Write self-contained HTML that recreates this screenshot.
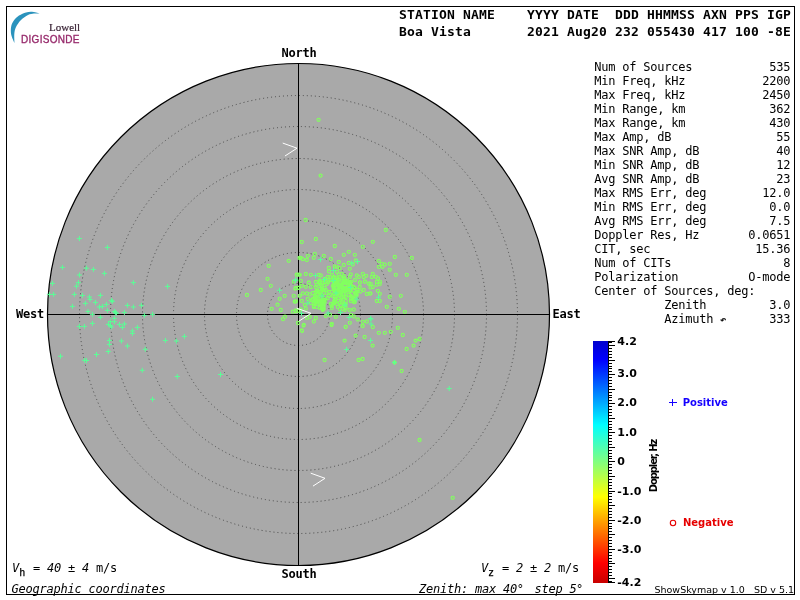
<!DOCTYPE html>
<html lang="en"><head><meta charset="utf-8"><title>Skymap - Boa Vista</title>
<style>
html,body{margin:0;padding:0;background:#fff;}
body{width:800px;height:600px;overflow:hidden;position:relative;}
svg{position:absolute;left:0;top:0;display:block;will-change:transform;}
text{white-space:pre;}
.m{font-family:"DejaVu Sans Mono","Liberation Mono",monospace;font-size:12px;letter-spacing:-0.2246px;fill:#000;}
.mi{font-family:"DejaVu Sans Mono","Liberation Mono",monospace;font-size:12px;letter-spacing:-0.2246px;font-style:italic;fill:#000;}
.ms{font-family:"DejaVu Sans Mono","Liberation Mono",monospace;font-size:10px;fill:#000;stroke:#000;stroke-width:0.25px;}
.mb{font-family:"DejaVu Sans Mono","Liberation Mono",monospace;font-size:12px;font-weight:bold;letter-spacing:-0.2246px;fill:#000;}
.h{font-family:"DejaVu Sans Mono","Liberation Mono",monospace;font-size:13px;font-weight:bold;letter-spacing:0.1734px;fill:#000;}
.t{font-family:"DejaVu Sans","Liberation Sans",sans-serif;font-size:11px;font-weight:bold;fill:#000;}
.l{font-family:"DejaVu Sans","Liberation Sans",sans-serif;font-size:10px;font-weight:bold;}
.f{font-family:"DejaVu Sans","Liberation Sans",sans-serif;font-size:9.5px;fill:#000;}
.lg1{font-family:"Liberation Serif","DejaVu Serif",serif;font-size:11px;fill:#3a2436;stroke:#3a2436;stroke-width:0.2px;}
.lg2{font-family:"Liberation Sans","DejaVu Sans",sans-serif;font-size:10px;letter-spacing:0.3px;fill:#96286a;stroke:#96286a;stroke-width:0.3px;}
.ar{font-family:"DejaVu Sans Mono","Liberation Mono",monospace;font-size:10px;fill:#000;stroke:#000;stroke-width:0.3px;}
</style></head><body>
<svg width="800" height="600" viewBox="0 0 800 600">
<defs><linearGradient id="jet" x1="0" y1="0" x2="0" y2="1">
<stop offset="0.0000" stop-color="#0000cd"/>
<stop offset="0.0785" stop-color="#0000ff"/>
<stop offset="0.2128" stop-color="#0080ff"/>
<stop offset="0.3471" stop-color="#00ffff"/>
<stop offset="0.4979" stop-color="#80ff80"/>
<stop offset="0.6446" stop-color="#ffff00"/>
<stop offset="0.7397" stop-color="#ffa500"/>
<stop offset="0.9174" stop-color="#ff0000"/>
<stop offset="1.0000" stop-color="#c80000"/>
</linearGradient></defs>
<rect x="6.5" y="6.5" width="788" height="588" fill="#fff" stroke="#000" stroke-width="1"/>
<circle cx="298.5" cy="314.5" r="251.0" fill="#a9a9a9" stroke="#000" stroke-width="1.2"/>
<g fill="none" stroke="#484848" stroke-width="1" stroke-dasharray="1 3">
<circle cx="298.5" cy="314.5" r="31"/>
<circle cx="298.5" cy="314.5" r="62"/>
<circle cx="298.5" cy="314.5" r="94"/>
<circle cx="298.5" cy="314.5" r="125"/>
<circle cx="298.5" cy="314.5" r="156"/>
<circle cx="298.5" cy="314.5" r="188"/>
<circle cx="298.5" cy="314.5" r="219"/>
</g>
<path d="M298.5 63.5V565.5M47.5 314.5H549.5" stroke="#000" stroke-width="1" fill="none" shape-rendering="crispEdges"/>
<path d="M287.15 260.8a1.55 1.55 0 1 0 3.1 0a1.55 1.55 0 1 0 -3.1 0M267.15 265.8a1.55 1.55 0 1 0 3.1 0a1.55 1.55 0 1 0 -3.1 0M265.95 278.8a1.55 1.55 0 1 0 3.1 0a1.55 1.55 0 1 0 -3.1 0M269.25 285.8a1.55 1.55 0 1 0 3.1 0a1.55 1.55 0 1 0 -3.1 0M259.25 290a1.55 1.55 0 1 0 3.1 0a1.55 1.55 0 1 0 -3.1 0M245.45 295a1.55 1.55 0 1 0 3.1 0a1.55 1.55 0 1 0 -3.1 0M283.15 295.8a1.55 1.55 0 1 0 3.1 0a1.55 1.55 0 1 0 -3.1 0M278.15 298.8a1.55 1.55 0 1 0 3.1 0a1.55 1.55 0 1 0 -3.1 0M275.95 304.7a1.55 1.55 0 1 0 3.1 0a1.55 1.55 0 1 0 -3.1 0M270.15 308.8a1.55 1.55 0 1 0 3.1 0a1.55 1.55 0 1 0 -3.1 0M279.25 310a1.55 1.55 0 1 0 3.1 0a1.55 1.55 0 1 0 -3.1 0M292.15 295.8a1.55 1.55 0 1 0 3.1 0a1.55 1.55 0 1 0 -3.1 0M293.15 301.7a1.55 1.55 0 1 0 3.1 0a1.55 1.55 0 1 0 -3.1 0M293.75 288.7a1.55 1.55 0 1 0 3.1 0a1.55 1.55 0 1 0 -3.1 0M296.75 287.8a1.55 1.55 0 1 0 3.1 0a1.55 1.55 0 1 0 -3.1 0M292.25 281.7a1.55 1.55 0 1 0 3.1 0a1.55 1.55 0 1 0 -3.1 0M295.15 274.7a1.55 1.55 0 1 0 3.1 0a1.55 1.55 0 1 0 -3.1 0M297.15 274.7a1.55 1.55 0 1 0 3.1 0a1.55 1.55 0 1 0 -3.1 0M291.25 311.7a1.55 1.55 0 1 0 3.1 0a1.55 1.55 0 1 0 -3.1 0M294.25 311.3a1.55 1.55 0 1 0 3.1 0a1.55 1.55 0 1 0 -3.1 0M296.75 310.8a1.55 1.55 0 1 0 3.1 0a1.55 1.55 0 1 0 -3.1 0M283.45 316.7a1.55 1.55 0 1 0 3.1 0a1.55 1.55 0 1 0 -3.1 0M281.45 319.2a1.55 1.55 0 1 0 3.1 0a1.55 1.55 0 1 0 -3.1 0M297.95 258a1.55 1.55 0 1 0 3.1 0a1.55 1.55 0 1 0 -3.1 0M297.95 295.8a1.55 1.55 0 1 0 3.1 0a1.55 1.55 0 1 0 -3.1 0M300.25 242a1.55 1.55 0 1 0 3.1 0a1.55 1.55 0 1 0 -3.1 0M314.25 239a1.55 1.55 0 1 0 3.1 0a1.55 1.55 0 1 0 -3.1 0M333.25 246a1.55 1.55 0 1 0 3.1 0a1.55 1.55 0 1 0 -3.1 0M371.25 241.8a1.55 1.55 0 1 0 3.1 0a1.55 1.55 0 1 0 -3.1 0M361.25 246.8a1.55 1.55 0 1 0 3.1 0a1.55 1.55 0 1 0 -3.1 0M347.25 251.8a1.55 1.55 0 1 0 3.1 0a1.55 1.55 0 1 0 -3.1 0M342.25 254.8a1.55 1.55 0 1 0 3.1 0a1.55 1.55 0 1 0 -3.1 0M353.25 254.8a1.55 1.55 0 1 0 3.1 0a1.55 1.55 0 1 0 -3.1 0M313.25 253.8a1.55 1.55 0 1 0 3.1 0a1.55 1.55 0 1 0 -3.1 0M306.25 255.8a1.55 1.55 0 1 0 3.1 0a1.55 1.55 0 1 0 -3.1 0M322.25 256a1.55 1.55 0 1 0 3.1 0a1.55 1.55 0 1 0 -3.1 0M312.25 257.8a1.55 1.55 0 1 0 3.1 0a1.55 1.55 0 1 0 -3.1 0M299.25 257.8a1.55 1.55 0 1 0 3.1 0a1.55 1.55 0 1 0 -3.1 0M301.25 259.2a1.55 1.55 0 1 0 3.1 0a1.55 1.55 0 1 0 -3.1 0M305.25 260a1.55 1.55 0 1 0 3.1 0a1.55 1.55 0 1 0 -3.1 0M329.25 259a1.55 1.55 0 1 0 3.1 0a1.55 1.55 0 1 0 -3.1 0M337.25 262a1.55 1.55 0 1 0 3.1 0a1.55 1.55 0 1 0 -3.1 0M342.25 265a1.55 1.55 0 1 0 3.1 0a1.55 1.55 0 1 0 -3.1 0M347.25 263a1.55 1.55 0 1 0 3.1 0a1.55 1.55 0 1 0 -3.1 0M351.25 264.5a1.55 1.55 0 1 0 3.1 0a1.55 1.55 0 1 0 -3.1 0M354.25 260.5a1.55 1.55 0 1 0 3.1 0a1.55 1.55 0 1 0 -3.1 0M348.25 268.8a1.55 1.55 0 1 0 3.1 0a1.55 1.55 0 1 0 -3.1 0M327.25 268a1.55 1.55 0 1 0 3.1 0a1.55 1.55 0 1 0 -3.1 0M333.25 266.5a1.55 1.55 0 1 0 3.1 0a1.55 1.55 0 1 0 -3.1 0M335.25 266.8a1.55 1.55 0 1 0 3.1 0a1.55 1.55 0 1 0 -3.1 0M338.25 268.2a1.55 1.55 0 1 0 3.1 0a1.55 1.55 0 1 0 -3.1 0M327.45 271.5a1.55 1.55 0 1 0 3.1 0a1.55 1.55 0 1 0 -3.1 0M335.45 271.8a1.55 1.55 0 1 0 3.1 0a1.55 1.55 0 1 0 -3.1 0M330.45 275a1.55 1.55 0 1 0 3.1 0a1.55 1.55 0 1 0 -3.1 0M304.25 274a1.55 1.55 0 1 0 3.1 0a1.55 1.55 0 1 0 -3.1 0M309.25 274.8a1.55 1.55 0 1 0 3.1 0a1.55 1.55 0 1 0 -3.1 0M295.25 274.8a1.55 1.55 0 1 0 3.1 0a1.55 1.55 0 1 0 -3.1 0M298.25 274.8a1.55 1.55 0 1 0 3.1 0a1.55 1.55 0 1 0 -3.1 0M317.25 275a1.55 1.55 0 1 0 3.1 0a1.55 1.55 0 1 0 -3.1 0M319.25 275.5a1.55 1.55 0 1 0 3.1 0a1.55 1.55 0 1 0 -3.1 0M326.25 277a1.55 1.55 0 1 0 3.1 0a1.55 1.55 0 1 0 -3.1 0M328.45 277a1.55 1.55 0 1 0 3.1 0a1.55 1.55 0 1 0 -3.1 0M337.25 274.5a1.55 1.55 0 1 0 3.1 0a1.55 1.55 0 1 0 -3.1 0M340.25 274a1.55 1.55 0 1 0 3.1 0a1.55 1.55 0 1 0 -3.1 0M342.25 276a1.55 1.55 0 1 0 3.1 0a1.55 1.55 0 1 0 -3.1 0M349.25 274.5a1.55 1.55 0 1 0 3.1 0a1.55 1.55 0 1 0 -3.1 0M348.25 277a1.55 1.55 0 1 0 3.1 0a1.55 1.55 0 1 0 -3.1 0M355.25 275.5a1.55 1.55 0 1 0 3.1 0a1.55 1.55 0 1 0 -3.1 0M357.25 277a1.55 1.55 0 1 0 3.1 0a1.55 1.55 0 1 0 -3.1 0M361.25 273.8a1.55 1.55 0 1 0 3.1 0a1.55 1.55 0 1 0 -3.1 0M362.25 277a1.55 1.55 0 1 0 3.1 0a1.55 1.55 0 1 0 -3.1 0M364.65 275.8a1.55 1.55 0 1 0 3.1 0a1.55 1.55 0 1 0 -3.1 0M371.25 274a1.55 1.55 0 1 0 3.1 0a1.55 1.55 0 1 0 -3.1 0M370.25 277a1.55 1.55 0 1 0 3.1 0a1.55 1.55 0 1 0 -3.1 0M299.25 281a1.55 1.55 0 1 0 3.1 0a1.55 1.55 0 1 0 -3.1 0M307.25 282.8a1.55 1.55 0 1 0 3.1 0a1.55 1.55 0 1 0 -3.1 0M314.25 282a1.55 1.55 0 1 0 3.1 0a1.55 1.55 0 1 0 -3.1 0M318.25 280.5a1.55 1.55 0 1 0 3.1 0a1.55 1.55 0 1 0 -3.1 0M320.45 283a1.55 1.55 0 1 0 3.1 0a1.55 1.55 0 1 0 -3.1 0M326.45 282.5a1.55 1.55 0 1 0 3.1 0a1.55 1.55 0 1 0 -3.1 0M335.45 280a1.55 1.55 0 1 0 3.1 0a1.55 1.55 0 1 0 -3.1 0M337.45 279.5a1.55 1.55 0 1 0 3.1 0a1.55 1.55 0 1 0 -3.1 0M340.45 281a1.55 1.55 0 1 0 3.1 0a1.55 1.55 0 1 0 -3.1 0M343.45 283a1.55 1.55 0 1 0 3.1 0a1.55 1.55 0 1 0 -3.1 0M349.45 282a1.55 1.55 0 1 0 3.1 0a1.55 1.55 0 1 0 -3.1 0M353.45 280a1.55 1.55 0 1 0 3.1 0a1.55 1.55 0 1 0 -3.1 0M358.45 282.5a1.55 1.55 0 1 0 3.1 0a1.55 1.55 0 1 0 -3.1 0M363.45 281.5a1.55 1.55 0 1 0 3.1 0a1.55 1.55 0 1 0 -3.1 0M367.45 283.5a1.55 1.55 0 1 0 3.1 0a1.55 1.55 0 1 0 -3.1 0M384.25 230a1.55 1.55 0 1 0 3.1 0a1.55 1.55 0 1 0 -3.1 0M393.25 257a1.55 1.55 0 1 0 3.1 0a1.55 1.55 0 1 0 -3.1 0M410.25 258a1.55 1.55 0 1 0 3.1 0a1.55 1.55 0 1 0 -3.1 0M377.25 260.8a1.55 1.55 0 1 0 3.1 0a1.55 1.55 0 1 0 -3.1 0M380.25 263.8a1.55 1.55 0 1 0 3.1 0a1.55 1.55 0 1 0 -3.1 0M383.25 264.5a1.55 1.55 0 1 0 3.1 0a1.55 1.55 0 1 0 -3.1 0M388.25 263.8a1.55 1.55 0 1 0 3.1 0a1.55 1.55 0 1 0 -3.1 0M377.25 266.8a1.55 1.55 0 1 0 3.1 0a1.55 1.55 0 1 0 -3.1 0M380.95 266.8a1.55 1.55 0 1 0 3.1 0a1.55 1.55 0 1 0 -3.1 0M388.25 269.8a1.55 1.55 0 1 0 3.1 0a1.55 1.55 0 1 0 -3.1 0M374.25 276.8a1.55 1.55 0 1 0 3.1 0a1.55 1.55 0 1 0 -3.1 0M376.45 278.5a1.55 1.55 0 1 0 3.1 0a1.55 1.55 0 1 0 -3.1 0M394.25 274.8a1.55 1.55 0 1 0 3.1 0a1.55 1.55 0 1 0 -3.1 0M405.25 274.8a1.55 1.55 0 1 0 3.1 0a1.55 1.55 0 1 0 -3.1 0M375.25 281.8a1.55 1.55 0 1 0 3.1 0a1.55 1.55 0 1 0 -3.1 0M378.45 281.8a1.55 1.55 0 1 0 3.1 0a1.55 1.55 0 1 0 -3.1 0M375.25 284.8a1.55 1.55 0 1 0 3.1 0a1.55 1.55 0 1 0 -3.1 0M378.25 284a1.55 1.55 0 1 0 3.1 0a1.55 1.55 0 1 0 -3.1 0M369.25 283.8a1.55 1.55 0 1 0 3.1 0a1.55 1.55 0 1 0 -3.1 0M371.25 287a1.55 1.55 0 1 0 3.1 0a1.55 1.55 0 1 0 -3.1 0M368.95 287.5a1.55 1.55 0 1 0 3.1 0a1.55 1.55 0 1 0 -3.1 0M376.25 290.8a1.55 1.55 0 1 0 3.1 0a1.55 1.55 0 1 0 -3.1 0M378.25 293.8a1.55 1.55 0 1 0 3.1 0a1.55 1.55 0 1 0 -3.1 0M368.95 293.5a1.55 1.55 0 1 0 3.1 0a1.55 1.55 0 1 0 -3.1 0M375.25 301a1.55 1.55 0 1 0 3.1 0a1.55 1.55 0 1 0 -3.1 0M378.25 301a1.55 1.55 0 1 0 3.1 0a1.55 1.55 0 1 0 -3.1 0M388.25 296.8a1.55 1.55 0 1 0 3.1 0a1.55 1.55 0 1 0 -3.1 0M399.25 295.8a1.55 1.55 0 1 0 3.1 0a1.55 1.55 0 1 0 -3.1 0M385.25 306.8a1.55 1.55 0 1 0 3.1 0a1.55 1.55 0 1 0 -3.1 0M397.25 308.8a1.55 1.55 0 1 0 3.1 0a1.55 1.55 0 1 0 -3.1 0M403.25 311.8a1.55 1.55 0 1 0 3.1 0a1.55 1.55 0 1 0 -3.1 0M371.25 327a1.55 1.55 0 1 0 3.1 0a1.55 1.55 0 1 0 -3.1 0M396.25 327.8a1.55 1.55 0 1 0 3.1 0a1.55 1.55 0 1 0 -3.1 0M377.25 332.8a1.55 1.55 0 1 0 3.1 0a1.55 1.55 0 1 0 -3.1 0M383.25 332.8a1.55 1.55 0 1 0 3.1 0a1.55 1.55 0 1 0 -3.1 0M389.25 331.8a1.55 1.55 0 1 0 3.1 0a1.55 1.55 0 1 0 -3.1 0M401.25 335a1.55 1.55 0 1 0 3.1 0a1.55 1.55 0 1 0 -3.1 0M300.45 331a1.55 1.55 0 1 0 3.1 0a1.55 1.55 0 1 0 -3.1 0M302.05 325.6a1.55 1.55 0 1 0 3.1 0a1.55 1.55 0 1 0 -3.1 0M330.05 325a1.55 1.55 0 1 0 3.1 0a1.55 1.55 0 1 0 -3.1 0M344.05 327a1.55 1.55 0 1 0 3.1 0a1.55 1.55 0 1 0 -3.1 0M361.05 326a1.55 1.55 0 1 0 3.1 0a1.55 1.55 0 1 0 -3.1 0M354.05 335.6a1.55 1.55 0 1 0 3.1 0a1.55 1.55 0 1 0 -3.1 0M363.05 337a1.55 1.55 0 1 0 3.1 0a1.55 1.55 0 1 0 -3.1 0M343.05 340.6a1.55 1.55 0 1 0 3.1 0a1.55 1.55 0 1 0 -3.1 0M371.05 345.6a1.55 1.55 0 1 0 3.1 0a1.55 1.55 0 1 0 -3.1 0M323.05 360a1.55 1.55 0 1 0 3.1 0a1.55 1.55 0 1 0 -3.1 0M357.05 360a1.55 1.55 0 1 0 3.1 0a1.55 1.55 0 1 0 -3.1 0M361.05 359a1.55 1.55 0 1 0 3.1 0a1.55 1.55 0 1 0 -3.1 0M418.05 339a1.55 1.55 0 1 0 3.1 0a1.55 1.55 0 1 0 -3.1 0M414.05 340.6a1.55 1.55 0 1 0 3.1 0a1.55 1.55 0 1 0 -3.1 0M412.05 345.6a1.55 1.55 0 1 0 3.1 0a1.55 1.55 0 1 0 -3.1 0M405.05 349a1.55 1.55 0 1 0 3.1 0a1.55 1.55 0 1 0 -3.1 0M393.05 362.6a1.55 1.55 0 1 0 3.1 0a1.55 1.55 0 1 0 -3.1 0M400.05 371a1.55 1.55 0 1 0 3.1 0a1.55 1.55 0 1 0 -3.1 0M418.05 440a1.55 1.55 0 1 0 3.1 0a1.55 1.55 0 1 0 -3.1 0M451.15 497.8a1.55 1.55 0 1 0 3.1 0a1.55 1.55 0 1 0 -3.1 0M317.05 119.8a1.55 1.55 0 1 0 3.1 0a1.55 1.55 0 1 0 -3.1 0M319.05 175.6a1.55 1.55 0 1 0 3.1 0a1.55 1.55 0 1 0 -3.1 0M304.05 220a1.55 1.55 0 1 0 3.1 0a1.55 1.55 0 1 0 -3.1 0M296.45 323a1.55 1.55 0 1 0 3.1 0a1.55 1.55 0 1 0 -3.1 0M302.25 324.8a1.55 1.55 0 1 0 3.1 0a1.55 1.55 0 1 0 -3.1 0M300.25 330.5a1.55 1.55 0 1 0 3.1 0a1.55 1.55 0 1 0 -3.1 0M312.25 321.5a1.55 1.55 0 1 0 3.1 0a1.55 1.55 0 1 0 -3.1 0M314.25 318a1.55 1.55 0 1 0 3.1 0a1.55 1.55 0 1 0 -3.1 0M308.25 317a1.55 1.55 0 1 0 3.1 0a1.55 1.55 0 1 0 -3.1 0M305.45 318a1.55 1.55 0 1 0 3.1 0a1.55 1.55 0 1 0 -3.1 0M330.25 323.8a1.55 1.55 0 1 0 3.1 0a1.55 1.55 0 1 0 -3.1 0M324.25 316a1.55 1.55 0 1 0 3.1 0a1.55 1.55 0 1 0 -3.1 0M328.45 315a1.55 1.55 0 1 0 3.1 0a1.55 1.55 0 1 0 -3.1 0M334.25 316.8a1.55 1.55 0 1 0 3.1 0a1.55 1.55 0 1 0 -3.1 0M344.25 326.8a1.55 1.55 0 1 0 3.1 0a1.55 1.55 0 1 0 -3.1 0M348.25 322.8a1.55 1.55 0 1 0 3.1 0a1.55 1.55 0 1 0 -3.1 0M352.45 316.5a1.55 1.55 0 1 0 3.1 0a1.55 1.55 0 1 0 -3.1 0M349.45 315a1.55 1.55 0 1 0 3.1 0a1.55 1.55 0 1 0 -3.1 0M356.25 319.5a1.55 1.55 0 1 0 3.1 0a1.55 1.55 0 1 0 -3.1 0M361.25 321.8a1.55 1.55 0 1 0 3.1 0a1.55 1.55 0 1 0 -3.1 0M365.25 321.5a1.55 1.55 0 1 0 3.1 0a1.55 1.55 0 1 0 -3.1 0M361.25 326a1.55 1.55 0 1 0 3.1 0a1.55 1.55 0 1 0 -3.1 0M348.25 310a1.55 1.55 0 1 0 3.1 0a1.55 1.55 0 1 0 -3.1 0M352.25 309.5a1.55 1.55 0 1 0 3.1 0a1.55 1.55 0 1 0 -3.1 0M358.25 282.5a1.55 1.55 0 1 0 3.1 0a1.55 1.55 0 1 0 -3.1 0M363.25 281.8a1.55 1.55 0 1 0 3.1 0a1.55 1.55 0 1 0 -3.1 0M367.25 283.8a1.55 1.55 0 1 0 3.1 0a1.55 1.55 0 1 0 -3.1 0M358.25 287a1.55 1.55 0 1 0 3.1 0a1.55 1.55 0 1 0 -3.1 0M362.25 290a1.55 1.55 0 1 0 3.1 0a1.55 1.55 0 1 0 -3.1 0M365.25 294a1.55 1.55 0 1 0 3.1 0a1.55 1.55 0 1 0 -3.1 0M368.25 293.5a1.55 1.55 0 1 0 3.1 0a1.55 1.55 0 1 0 -3.1 0M354.25 293a1.55 1.55 0 1 0 3.1 0a1.55 1.55 0 1 0 -3.1 0M358.95 291.5a1.55 1.55 0 1 0 3.1 0a1.55 1.55 0 1 0 -3.1 0M352.25 302a1.55 1.55 0 1 0 3.1 0a1.55 1.55 0 1 0 -3.1 0M349.25 301a1.55 1.55 0 1 0 3.1 0a1.55 1.55 0 1 0 -3.1 0M294.25 288a1.55 1.55 0 1 0 3.1 0a1.55 1.55 0 1 0 -3.1 0M297.25 287.8a1.55 1.55 0 1 0 3.1 0a1.55 1.55 0 1 0 -3.1 0M300.25 285.8a1.55 1.55 0 1 0 3.1 0a1.55 1.55 0 1 0 -3.1 0M304.25 286.8a1.55 1.55 0 1 0 3.1 0a1.55 1.55 0 1 0 -3.1 0M307.25 282.5a1.55 1.55 0 1 0 3.1 0a1.55 1.55 0 1 0 -3.1 0M309.25 287a1.55 1.55 0 1 0 3.1 0a1.55 1.55 0 1 0 -3.1 0M301.25 293.5a1.55 1.55 0 1 0 3.1 0a1.55 1.55 0 1 0 -3.1 0M298.25 295.8a1.55 1.55 0 1 0 3.1 0a1.55 1.55 0 1 0 -3.1 0M305.25 293.5a1.55 1.55 0 1 0 3.1 0a1.55 1.55 0 1 0 -3.1 0M308.25 294.5a1.55 1.55 0 1 0 3.1 0a1.55 1.55 0 1 0 -3.1 0M306.25 299a1.55 1.55 0 1 0 3.1 0a1.55 1.55 0 1 0 -3.1 0M300.25 301a1.55 1.55 0 1 0 3.1 0a1.55 1.55 0 1 0 -3.1 0M303.25 305a1.55 1.55 0 1 0 3.1 0a1.55 1.55 0 1 0 -3.1 0M299.25 309.5a1.55 1.55 0 1 0 3.1 0a1.55 1.55 0 1 0 -3.1 0M304.25 308.5a1.55 1.55 0 1 0 3.1 0a1.55 1.55 0 1 0 -3.1 0M294.25 301.5a1.55 1.55 0 1 0 3.1 0a1.55 1.55 0 1 0 -3.1 0M294.25 310.5a1.55 1.55 0 1 0 3.1 0a1.55 1.55 0 1 0 -3.1 0M331.25 296a1.55 1.55 0 1 0 3.1 0a1.55 1.55 0 1 0 -3.1 0M353.25 293a1.55 1.55 0 1 0 3.1 0a1.55 1.55 0 1 0 -3.1 0M333.25 297a1.55 1.55 0 1 0 3.1 0a1.55 1.55 0 1 0 -3.1 0M318.25 294a1.55 1.55 0 1 0 3.1 0a1.55 1.55 0 1 0 -3.1 0M339.25 305a1.55 1.55 0 1 0 3.1 0a1.55 1.55 0 1 0 -3.1 0M314.25 287a1.55 1.55 0 1 0 3.1 0a1.55 1.55 0 1 0 -3.1 0M342.25 278a1.55 1.55 0 1 0 3.1 0a1.55 1.55 0 1 0 -3.1 0M340.25 298a1.55 1.55 0 1 0 3.1 0a1.55 1.55 0 1 0 -3.1 0M334.25 278a1.55 1.55 0 1 0 3.1 0a1.55 1.55 0 1 0 -3.1 0M319.25 285a1.55 1.55 0 1 0 3.1 0a1.55 1.55 0 1 0 -3.1 0M311.25 293a1.55 1.55 0 1 0 3.1 0a1.55 1.55 0 1 0 -3.1 0M330.25 306a1.55 1.55 0 1 0 3.1 0a1.55 1.55 0 1 0 -3.1 0M334.25 299a1.55 1.55 0 1 0 3.1 0a1.55 1.55 0 1 0 -3.1 0M333.25 300a1.55 1.55 0 1 0 3.1 0a1.55 1.55 0 1 0 -3.1 0M331.25 286a1.55 1.55 0 1 0 3.1 0a1.55 1.55 0 1 0 -3.1 0M349.25 301a1.55 1.55 0 1 0 3.1 0a1.55 1.55 0 1 0 -3.1 0M325.25 284a1.55 1.55 0 1 0 3.1 0a1.55 1.55 0 1 0 -3.1 0M323.25 279a1.55 1.55 0 1 0 3.1 0a1.55 1.55 0 1 0 -3.1 0M345.25 290a1.55 1.55 0 1 0 3.1 0a1.55 1.55 0 1 0 -3.1 0M349.25 290a1.55 1.55 0 1 0 3.1 0a1.55 1.55 0 1 0 -3.1 0M355.25 290a1.55 1.55 0 1 0 3.1 0a1.55 1.55 0 1 0 -3.1 0M313.25 299a1.55 1.55 0 1 0 3.1 0a1.55 1.55 0 1 0 -3.1 0M346.25 286a1.55 1.55 0 1 0 3.1 0a1.55 1.55 0 1 0 -3.1 0M315.25 285a1.55 1.55 0 1 0 3.1 0a1.55 1.55 0 1 0 -3.1 0M347.25 282a1.55 1.55 0 1 0 3.1 0a1.55 1.55 0 1 0 -3.1 0M336.25 292a1.55 1.55 0 1 0 3.1 0a1.55 1.55 0 1 0 -3.1 0M319.25 302a1.55 1.55 0 1 0 3.1 0a1.55 1.55 0 1 0 -3.1 0M316.25 299a1.55 1.55 0 1 0 3.1 0a1.55 1.55 0 1 0 -3.1 0M315.25 291a1.55 1.55 0 1 0 3.1 0a1.55 1.55 0 1 0 -3.1 0M320.25 286a1.55 1.55 0 1 0 3.1 0a1.55 1.55 0 1 0 -3.1 0M320.25 290a1.55 1.55 0 1 0 3.1 0a1.55 1.55 0 1 0 -3.1 0M349.25 299a1.55 1.55 0 1 0 3.1 0a1.55 1.55 0 1 0 -3.1 0M346.25 288a1.55 1.55 0 1 0 3.1 0a1.55 1.55 0 1 0 -3.1 0M314.25 297a1.55 1.55 0 1 0 3.1 0a1.55 1.55 0 1 0 -3.1 0M321.25 298a1.55 1.55 0 1 0 3.1 0a1.55 1.55 0 1 0 -3.1 0M327.25 292a1.55 1.55 0 1 0 3.1 0a1.55 1.55 0 1 0 -3.1 0M336.25 307a1.55 1.55 0 1 0 3.1 0a1.55 1.55 0 1 0 -3.1 0M318.25 282a1.55 1.55 0 1 0 3.1 0a1.55 1.55 0 1 0 -3.1 0M321.25 283a1.55 1.55 0 1 0 3.1 0a1.55 1.55 0 1 0 -3.1 0M351.25 298a1.55 1.55 0 1 0 3.1 0a1.55 1.55 0 1 0 -3.1 0M329.25 280a1.55 1.55 0 1 0 3.1 0a1.55 1.55 0 1 0 -3.1 0M321.25 301a1.55 1.55 0 1 0 3.1 0a1.55 1.55 0 1 0 -3.1 0M322.25 306a1.55 1.55 0 1 0 3.1 0a1.55 1.55 0 1 0 -3.1 0M337.25 287a1.55 1.55 0 1 0 3.1 0a1.55 1.55 0 1 0 -3.1 0M338.25 286a1.55 1.55 0 1 0 3.1 0a1.55 1.55 0 1 0 -3.1 0M331.25 278a1.55 1.55 0 1 0 3.1 0a1.55 1.55 0 1 0 -3.1 0M318.25 289a1.55 1.55 0 1 0 3.1 0a1.55 1.55 0 1 0 -3.1 0M336.25 281a1.55 1.55 0 1 0 3.1 0a1.55 1.55 0 1 0 -3.1 0M342.25 297a1.55 1.55 0 1 0 3.1 0a1.55 1.55 0 1 0 -3.1 0M311.25 299a1.55 1.55 0 1 0 3.1 0a1.55 1.55 0 1 0 -3.1 0M332.25 302a1.55 1.55 0 1 0 3.1 0a1.55 1.55 0 1 0 -3.1 0M313.25 296a1.55 1.55 0 1 0 3.1 0a1.55 1.55 0 1 0 -3.1 0M344.25 308a1.55 1.55 0 1 0 3.1 0a1.55 1.55 0 1 0 -3.1 0M344.25 301a1.55 1.55 0 1 0 3.1 0a1.55 1.55 0 1 0 -3.1 0M329.25 304a1.55 1.55 0 1 0 3.1 0a1.55 1.55 0 1 0 -3.1 0M350.25 297a1.55 1.55 0 1 0 3.1 0a1.55 1.55 0 1 0 -3.1 0M339.25 290a1.55 1.55 0 1 0 3.1 0a1.55 1.55 0 1 0 -3.1 0M337.25 298a1.55 1.55 0 1 0 3.1 0a1.55 1.55 0 1 0 -3.1 0M343.25 290a1.55 1.55 0 1 0 3.1 0a1.55 1.55 0 1 0 -3.1 0M344.25 297a1.55 1.55 0 1 0 3.1 0a1.55 1.55 0 1 0 -3.1 0M314.25 303a1.55 1.55 0 1 0 3.1 0a1.55 1.55 0 1 0 -3.1 0M332.25 284a1.55 1.55 0 1 0 3.1 0a1.55 1.55 0 1 0 -3.1 0M342.25 294a1.55 1.55 0 1 0 3.1 0a1.55 1.55 0 1 0 -3.1 0M338.25 309a1.55 1.55 0 1 0 3.1 0a1.55 1.55 0 1 0 -3.1 0M352.25 300a1.55 1.55 0 1 0 3.1 0a1.55 1.55 0 1 0 -3.1 0M330.25 308a1.55 1.55 0 1 0 3.1 0a1.55 1.55 0 1 0 -3.1 0M319.25 292a1.55 1.55 0 1 0 3.1 0a1.55 1.55 0 1 0 -3.1 0M316.25 294a1.55 1.55 0 1 0 3.1 0a1.55 1.55 0 1 0 -3.1 0M343.25 310a1.55 1.55 0 1 0 3.1 0a1.55 1.55 0 1 0 -3.1 0M323.25 282a1.55 1.55 0 1 0 3.1 0a1.55 1.55 0 1 0 -3.1 0M339.25 294a1.55 1.55 0 1 0 3.1 0a1.55 1.55 0 1 0 -3.1 0M355.25 292a1.55 1.55 0 1 0 3.1 0a1.55 1.55 0 1 0 -3.1 0M348.25 285a1.55 1.55 0 1 0 3.1 0a1.55 1.55 0 1 0 -3.1 0M339.25 292a1.55 1.55 0 1 0 3.1 0a1.55 1.55 0 1 0 -3.1 0M339.25 300a1.55 1.55 0 1 0 3.1 0a1.55 1.55 0 1 0 -3.1 0M341.25 283a1.55 1.55 0 1 0 3.1 0a1.55 1.55 0 1 0 -3.1 0M332.25 282a1.55 1.55 0 1 0 3.1 0a1.55 1.55 0 1 0 -3.1 0M343.25 282a1.55 1.55 0 1 0 3.1 0a1.55 1.55 0 1 0 -3.1 0M323.25 288a1.55 1.55 0 1 0 3.1 0a1.55 1.55 0 1 0 -3.1 0M338.25 303a1.55 1.55 0 1 0 3.1 0a1.55 1.55 0 1 0 -3.1 0M353.25 302a1.55 1.55 0 1 0 3.1 0a1.55 1.55 0 1 0 -3.1 0M316.25 292a1.55 1.55 0 1 0 3.1 0a1.55 1.55 0 1 0 -3.1 0M327.25 296a1.55 1.55 0 1 0 3.1 0a1.55 1.55 0 1 0 -3.1 0M343.25 305a1.55 1.55 0 1 0 3.1 0a1.55 1.55 0 1 0 -3.1 0M340.25 302a1.55 1.55 0 1 0 3.1 0a1.55 1.55 0 1 0 -3.1 0M320.25 308a1.55 1.55 0 1 0 3.1 0a1.55 1.55 0 1 0 -3.1 0M335.25 304a1.55 1.55 0 1 0 3.1 0a1.55 1.55 0 1 0 -3.1 0M314.25 292a1.55 1.55 0 1 0 3.1 0a1.55 1.55 0 1 0 -3.1 0M332.25 277a1.55 1.55 0 1 0 3.1 0a1.55 1.55 0 1 0 -3.1 0M334.25 302a1.55 1.55 0 1 0 3.1 0a1.55 1.55 0 1 0 -3.1 0M354.25 294a1.55 1.55 0 1 0 3.1 0a1.55 1.55 0 1 0 -3.1 0M320.25 295a1.55 1.55 0 1 0 3.1 0a1.55 1.55 0 1 0 -3.1 0M323.25 302a1.55 1.55 0 1 0 3.1 0a1.55 1.55 0 1 0 -3.1 0M349.25 296a1.55 1.55 0 1 0 3.1 0a1.55 1.55 0 1 0 -3.1 0M324.25 290a1.55 1.55 0 1 0 3.1 0a1.55 1.55 0 1 0 -3.1 0M355.25 295a1.55 1.55 0 1 0 3.1 0a1.55 1.55 0 1 0 -3.1 0M336.25 283a1.55 1.55 0 1 0 3.1 0a1.55 1.55 0 1 0 -3.1 0M335.25 294a1.55 1.55 0 1 0 3.1 0a1.55 1.55 0 1 0 -3.1 0M338.25 277a1.55 1.55 0 1 0 3.1 0a1.55 1.55 0 1 0 -3.1 0M335.25 291a1.55 1.55 0 1 0 3.1 0a1.55 1.55 0 1 0 -3.1 0M322.25 293a1.55 1.55 0 1 0 3.1 0a1.55 1.55 0 1 0 -3.1 0M332.25 287a1.55 1.55 0 1 0 3.1 0a1.55 1.55 0 1 0 -3.1 0M319.25 298a1.55 1.55 0 1 0 3.1 0a1.55 1.55 0 1 0 -3.1 0M342.25 288a1.55 1.55 0 1 0 3.1 0a1.55 1.55 0 1 0 -3.1 0M326.25 298a1.55 1.55 0 1 0 3.1 0a1.55 1.55 0 1 0 -3.1 0M315.25 302a1.55 1.55 0 1 0 3.1 0a1.55 1.55 0 1 0 -3.1 0M334.25 292a1.55 1.55 0 1 0 3.1 0a1.55 1.55 0 1 0 -3.1 0M334.25 282a1.55 1.55 0 1 0 3.1 0a1.55 1.55 0 1 0 -3.1 0M349.25 284a1.55 1.55 0 1 0 3.1 0a1.55 1.55 0 1 0 -3.1 0M352.25 287a1.55 1.55 0 1 0 3.1 0a1.55 1.55 0 1 0 -3.1 0M348.25 291a1.55 1.55 0 1 0 3.1 0a1.55 1.55 0 1 0 -3.1 0M346.25 281a1.55 1.55 0 1 0 3.1 0a1.55 1.55 0 1 0 -3.1 0M341.25 309a1.55 1.55 0 1 0 3.1 0a1.55 1.55 0 1 0 -3.1 0M333.25 303a1.55 1.55 0 1 0 3.1 0a1.55 1.55 0 1 0 -3.1 0M331.25 304a1.55 1.55 0 1 0 3.1 0a1.55 1.55 0 1 0 -3.1 0M325.25 293a1.55 1.55 0 1 0 3.1 0a1.55 1.55 0 1 0 -3.1 0M342.25 306a1.55 1.55 0 1 0 3.1 0a1.55 1.55 0 1 0 -3.1 0M344.25 291a1.55 1.55 0 1 0 3.1 0a1.55 1.55 0 1 0 -3.1 0M322.25 309a1.55 1.55 0 1 0 3.1 0a1.55 1.55 0 1 0 -3.1 0M344.25 304a1.55 1.55 0 1 0 3.1 0a1.55 1.55 0 1 0 -3.1 0M342.25 304a1.55 1.55 0 1 0 3.1 0a1.55 1.55 0 1 0 -3.1 0M343.25 279a1.55 1.55 0 1 0 3.1 0a1.55 1.55 0 1 0 -3.1 0M322.25 290a1.55 1.55 0 1 0 3.1 0a1.55 1.55 0 1 0 -3.1 0M327.25 280a1.55 1.55 0 1 0 3.1 0a1.55 1.55 0 1 0 -3.1 0M354.25 296a1.55 1.55 0 1 0 3.1 0a1.55 1.55 0 1 0 -3.1 0M344.25 294a1.55 1.55 0 1 0 3.1 0a1.55 1.55 0 1 0 -3.1 0M332.25 288a1.55 1.55 0 1 0 3.1 0a1.55 1.55 0 1 0 -3.1 0M332.25 289a1.55 1.55 0 1 0 3.1 0a1.55 1.55 0 1 0 -3.1 0M344.25 281a1.55 1.55 0 1 0 3.1 0a1.55 1.55 0 1 0 -3.1 0M353.25 288a1.55 1.55 0 1 0 3.1 0a1.55 1.55 0 1 0 -3.1 0M342.25 291a1.55 1.55 0 1 0 3.1 0a1.55 1.55 0 1 0 -3.1 0M338.25 285a1.55 1.55 0 1 0 3.1 0a1.55 1.55 0 1 0 -3.1 0M335.25 293a1.55 1.55 0 1 0 3.1 0a1.55 1.55 0 1 0 -3.1 0M332.25 294a1.55 1.55 0 1 0 3.1 0a1.55 1.55 0 1 0 -3.1 0M338.25 296a1.55 1.55 0 1 0 3.1 0a1.55 1.55 0 1 0 -3.1 0M339.25 289a1.55 1.55 0 1 0 3.1 0a1.55 1.55 0 1 0 -3.1 0M347.25 288a1.55 1.55 0 1 0 3.1 0a1.55 1.55 0 1 0 -3.1 0M344.25 282a1.55 1.55 0 1 0 3.1 0a1.55 1.55 0 1 0 -3.1 0M344.25 288a1.55 1.55 0 1 0 3.1 0a1.55 1.55 0 1 0 -3.1 0M342.25 282a1.55 1.55 0 1 0 3.1 0a1.55 1.55 0 1 0 -3.1 0M340.25 292a1.55 1.55 0 1 0 3.1 0a1.55 1.55 0 1 0 -3.1 0M340.25 285a1.55 1.55 0 1 0 3.1 0a1.55 1.55 0 1 0 -3.1 0M343.25 288a1.55 1.55 0 1 0 3.1 0a1.55 1.55 0 1 0 -3.1 0M348.25 290a1.55 1.55 0 1 0 3.1 0a1.55 1.55 0 1 0 -3.1 0M347.25 284a1.55 1.55 0 1 0 3.1 0a1.55 1.55 0 1 0 -3.1 0M337.25 285a1.55 1.55 0 1 0 3.1 0a1.55 1.55 0 1 0 -3.1 0M346.25 290a1.55 1.55 0 1 0 3.1 0a1.55 1.55 0 1 0 -3.1 0M343.25 291a1.55 1.55 0 1 0 3.1 0a1.55 1.55 0 1 0 -3.1 0M348.25 283a1.55 1.55 0 1 0 3.1 0a1.55 1.55 0 1 0 -3.1 0M335.25 288a1.55 1.55 0 1 0 3.1 0a1.55 1.55 0 1 0 -3.1 0M342.25 281a1.55 1.55 0 1 0 3.1 0a1.55 1.55 0 1 0 -3.1 0M330.25 292a1.55 1.55 0 1 0 3.1 0a1.55 1.55 0 1 0 -3.1 0M338.25 289a1.55 1.55 0 1 0 3.1 0a1.55 1.55 0 1 0 -3.1 0M333.25 286a1.55 1.55 0 1 0 3.1 0a1.55 1.55 0 1 0 -3.1 0M347.25 295a1.55 1.55 0 1 0 3.1 0a1.55 1.55 0 1 0 -3.1 0M349.25 291a1.55 1.55 0 1 0 3.1 0a1.55 1.55 0 1 0 -3.1 0M348.25 284a1.55 1.55 0 1 0 3.1 0a1.55 1.55 0 1 0 -3.1 0M339.25 285a1.55 1.55 0 1 0 3.1 0a1.55 1.55 0 1 0 -3.1 0M349.25 287a1.55 1.55 0 1 0 3.1 0a1.55 1.55 0 1 0 -3.1 0M336.25 290a1.55 1.55 0 1 0 3.1 0a1.55 1.55 0 1 0 -3.1 0M321.25 310a1.55 1.55 0 1 0 3.1 0a1.55 1.55 0 1 0 -3.1 0M316.25 301a1.55 1.55 0 1 0 3.1 0a1.55 1.55 0 1 0 -3.1 0M318.25 303a1.55 1.55 0 1 0 3.1 0a1.55 1.55 0 1 0 -3.1 0M320.25 300a1.55 1.55 0 1 0 3.1 0a1.55 1.55 0 1 0 -3.1 0M312.25 306a1.55 1.55 0 1 0 3.1 0a1.55 1.55 0 1 0 -3.1 0M310.25 300a1.55 1.55 0 1 0 3.1 0a1.55 1.55 0 1 0 -3.1 0M321.25 306a1.55 1.55 0 1 0 3.1 0a1.55 1.55 0 1 0 -3.1 0M315.25 307a1.55 1.55 0 1 0 3.1 0a1.55 1.55 0 1 0 -3.1 0M315.25 297a1.55 1.55 0 1 0 3.1 0a1.55 1.55 0 1 0 -3.1 0M320.25 304a1.55 1.55 0 1 0 3.1 0a1.55 1.55 0 1 0 -3.1 0M322.25 300a1.55 1.55 0 1 0 3.1 0a1.55 1.55 0 1 0 -3.1 0M314.25 301a1.55 1.55 0 1 0 3.1 0a1.55 1.55 0 1 0 -3.1 0M313.25 301a1.55 1.55 0 1 0 3.1 0a1.55 1.55 0 1 0 -3.1 0M315.25 301a1.55 1.55 0 1 0 3.1 0a1.55 1.55 0 1 0 -3.1 0M312.25 304a1.55 1.55 0 1 0 3.1 0a1.55 1.55 0 1 0 -3.1 0M322.25 304a1.55 1.55 0 1 0 3.1 0a1.55 1.55 0 1 0 -3.1 0M312.25 307a1.55 1.55 0 1 0 3.1 0a1.55 1.55 0 1 0 -3.1 0M323.25 300a1.55 1.55 0 1 0 3.1 0a1.55 1.55 0 1 0 -3.1 0M309.25 303a1.55 1.55 0 1 0 3.1 0a1.55 1.55 0 1 0 -3.1 0M318.25 304a1.55 1.55 0 1 0 3.1 0a1.55 1.55 0 1 0 -3.1 0M318.25 308a1.55 1.55 0 1 0 3.1 0a1.55 1.55 0 1 0 -3.1 0M321.25 309a1.55 1.55 0 1 0 3.1 0a1.55 1.55 0 1 0 -3.1 0" stroke="#82ff5f" stroke-width="1.2" fill="none"/>
<path d="M76.9 238.6h5M79.4 236.1v5M104.9 247.4h5M107.4 244.9v5M59.9 267.4h5M62.4 264.9v5M83.9 268.2h5M86.4 265.7v5M90.9 269.4h5M93.4 266.9v5M101.9 273.4h5M104.4 270.9v5M76.9 275h5M79.4 272.5v5M49.9 283.4h5M52.4 280.9v5M75.9 282.6h5M78.4 280.1v5M73.9 286.2h5M76.4 283.7v5M130.9 282.6h5M133.4 280.1v5M165.1 286.4h5M167.6 283.9v5M46.9 294.4h5M49.4 291.9v5M51.1 294.4h5M53.6 291.9v5M71.9 294.4h5M74.4 291.9v5M79.9 295.4h5M82.4 292.9v5M86.9 297h5M89.4 294.5v5M87.5 299.4h5M90 296.9v5M97.9 295.4h5M100.4 292.9v5M108.9 300.4h5M111.4 297.9v5M109.9 301.4h5M112.4 298.9v5M82.9 303.4h5M85.4 300.9v5M92.9 302.4h5M95.4 299.9v5M69.9 306.4h5M72.4 303.9v5M96.9 307h5M99.4 304.5v5M99.9 306.4h5M102.4 303.9v5M103.9 304.4h5M106.4 301.9v5M124.9 305.4h5M127.4 302.9v5M130.9 307h5M133.4 304.5v5M138.9 305.4h5M141.4 302.9v5M85.5 311.4h5M88 308.9v5M104.9 310.4h5M107.4 307.9v5M111.9 311.4h5M114.4 308.9v5M112.9 312.4h5M115.4 309.9v5M113.9 313.4h5M116.4 310.9v5M121.9 312.4h5M124.4 309.9v5M89.9 314.4h5M92.4 311.9v5M141.9 315.4h5M144.4 312.9v5M150.1 314.4h5M152.6 311.9v5M97.9 317.4h5M100.4 314.9v5M111.9 318.4h5M114.4 315.9v5M107.9 321.4h5M110.4 318.9v5M111.9 321.8h5M114.4 319.3v5M89.9 323.4h5M92.4 320.9v5M105.9 324.4h5M108.4 321.9v5M107.9 325.4h5M110.4 322.9v5M116.9 324.4h5M119.4 321.9v5M121.9 324h5M124.4 321.5v5M76.9 326.4h5M79.4 323.9v5M81.9 326.4h5M84.4 323.9v5M108.9 327h5M111.4 324.5v5M119.9 327.4h5M122.4 324.9v5M134.9 327.4h5M137.4 324.9v5M129.9 331h5M132.4 328.5v5M129.9 333.4h5M132.4 330.9v5M181.9 336.4h5M184.4 333.9v5M106.9 340.4h5M109.4 337.9v5M118.9 341h5M121.4 338.5v5M162.9 340.4h5M165.4 337.9v5M173.9 341h5M176.4 338.5v5M106.9 344.4h5M109.4 341.9v5M124.9 346h5M127.4 343.5v5M105.75 351.5h5M108.25 349v5M94 354.5h5M96.5 352v5M82 360.25h5M84.5 357.75v5M84 360.5h5M86.5 358v5M58 356.25h5M60.5 353.75v5M142.75 349.25h5M145.25 346.75v5M139.75 370.25h5M142.25 367.75v5M174.75 376.5h5M177.25 374v5M218 374.5h5M220.5 372v5M150 399.25h5M152.5 396.75v5M277 290.3h5M279.5 287.8v5M293 280h5M295.5 277.5v5M318 259.5h5M320.5 257v5M349.3 263h5M351.8 260.5v5M355 261.5h5M357.5 259v5M331 270.5h5M333.5 268v5M313 275.5h5M315.5 273v5M293.3 280h5M295.8 277.5v5M322 279.5h5M324.5 277v5M331 280.5h5M333.5 278v5M376 297.2h5M378.5 294.7v5M368.5 319h5M371 316.5v5M368.5 324h5M371 321.5v5M368.1 340.4h5M370.6 337.9v5M344.1 349.4h5M346.6 346.9v5M391.9 362.4h5M394.4 359.9v5M446.7 388.6h5M449.2 386.1v5M346.5 317.5h5M349 315v5M368 318.5h5M370.5 316v5M338 312.5h5M340.5 310v5M325.5 313h5M328 310.5v5M299 313.5h5M301.5 311v5M342.5 305h5M345 302.5v5M354.3 299h5M356.8 296.5v5M305.3 303h5M307.8 300.5v5M348 287.5h5M350.5 285v5M333.5 293h5M336 290.5v5M319.5 296h5M322 293.5v5" stroke="#5aff96" stroke-width="1" fill="none"/>
<path d="M283.1 143.2L297 148.2L285.3 155.8M297.1 308.3L311 313.3L299.3 320.9M311.1 473.3L325 478.3L313.3 485.9" stroke="#fff" stroke-width="1" fill="none" stroke-linecap="round"/>
<rect x="593" y="341" width="15" height="242" fill="url(#jet)"/>
<path d="M608.5 341V583M608 581.5h4M608 578.5h7M608 575.5h4M608 572.5h4M608 569.5h4M608 566.5h4M608 563.5h7M608 561.5h4M608 558.5h4M608 555.5h4M608 552.5h4M608 549.5h7M608 546.5h4M608 543.5h4M608 540.5h4M608 537.5h4M608 534.5h7M608 531.5h4M608 528.5h4M608 526.5h4M608 523.5h4M608 520.5h7M608 517.5h4M608 514.5h4M608 511.5h4M608 508.5h4M608 505.5h7M608 502.5h4M608 499.5h4M608 496.5h4M608 493.5h4M608 491.5h7M608 488.5h4M608 485.5h4M608 482.5h4M608 479.5h4M608 476.5h7M608 473.5h4M608 470.5h4M608 467.5h4M608 464.5h4M608 461.5h7M608 458.5h4M608 456.5h4M608 453.5h4M608 450.5h4M608 447.5h7M608 444.5h4M608 441.5h4M608 438.5h4M608 435.5h4M608 432.5h7M608 429.5h4M608 427.5h4M608 424.5h4M608 421.5h4M608 418.5h7M608 415.5h4M608 412.5h4M608 409.5h4M608 406.5h4M608 403.5h7M608 400.5h4M608 397.5h4M608 395.5h4M608 392.5h4M608 389.5h7M608 386.5h4M608 383.5h4M608 380.5h4M608 377.5h4M608 374.5h7M608 371.5h4M608 368.5h4M608 366.5h4M608 363.5h4M608 360.5h7M608 357.5h4M608 354.5h4M608 351.5h4M608 348.5h4M608 345.5h7M608 342.5h4M608 341.5h7M608 582.5h7" stroke="#000" stroke-width="1" fill="none" shape-rendering="crispEdges"/>
<text class="t" x="617.3" y="345.2">4.2</text>
<text class="t" x="617.3" y="377.2">3.0</text>
<text class="t" x="617.3" y="406.2">2.0</text>
<text class="t" x="617.3" y="436.2">1.0</text>
<text class="t" x="617.3" y="465.2">0</text>
<text class="t" x="617.3" y="494.8">-1.0</text>
<text class="t" x="617.3" y="523.8">-2.0</text>
<text class="t" x="617.3" y="552.8">-3.0</text>
<text class="t" x="617.3" y="586">-4.2</text>
<text class="l" fill="#000" style="letter-spacing:-1.1px" text-anchor="middle" transform="translate(657 466) rotate(-90)">Doppler, Hz</text>
<path d="M669 402.5h8M672.5 399v7" stroke="#1400ff" stroke-width="1" fill="none" shape-rendering="crispEdges"/>
<text class="l" x="682.7" y="406" fill="#1400ff">Positive</text>
<circle cx="673" cy="523" r="2.7" stroke="#e60000" stroke-width="1.1" fill="none"/>
<text class="l" x="682.9" y="526" fill="#e60000">Negative</text>
<path d="M39.5 13.4C38.2 13.1 34.2 11.9 32.0 11.7C29.8 11.5 28.2 11.8 26.0 12.4C23.8 13.1 21.1 14.2 19.0 15.6C16.9 17.0 14.8 19.1 13.5 21.0C12.2 22.9 11.5 24.7 11.1 27.0C10.7 29.3 10.7 32.3 11.3 35.0C11.9 37.7 14.0 41.8 14.5 43.2C14.5 41.7 14.1 36.7 14.3 34.0C14.6 31.3 14.9 29.3 16.0 27.0C17.1 24.7 19.0 22.0 21.0 20.0C23.0 18.0 25.8 16.1 28.0 15.0C30.2 13.9 32.1 13.9 34.0 13.6C35.9 13.3 38.6 13.4 39.5 13.4Z" fill="#2b93bd"/>
<text class="lg1" x="49" y="30.5">Lowell</text>
<text class="lg2" x="21" y="42.5">DIGISONDE</text>
<text class="h" x="399" y="19">STATION NAME    YYYY DATE  DDD HHMMSS AXN PPS IGP</text>
<text class="h" x="399" y="36">Boa Vista       2021 Aug20 232 055430 417 100 -8E</text>
<text class="mb" x="281.5" y="57">North</text>
<text class="mb" x="281.5" y="578">South</text>
<text class="mb" x="16" y="318">West</text>
<text class="mb" x="552.5" y="318">East</text>
<text class="m" x="594.3" y="71">Num of Sources</text>
<text class="m" x="769.3" y="71">535</text>
<text class="m" x="594.3" y="85">Min Freq, kHz</text>
<text class="m" x="762.3" y="85">2200</text>
<text class="m" x="594.3" y="99">Max Freq, kHz</text>
<text class="m" x="762.3" y="99">2450</text>
<text class="m" x="594.3" y="113">Min Range, km</text>
<text class="m" x="769.3" y="113">362</text>
<text class="m" x="594.3" y="127">Max Range, km</text>
<text class="m" x="769.3" y="127">430</text>
<text class="m" x="594.3" y="141">Max Amp, dB</text>
<text class="m" x="776.3" y="141">55</text>
<text class="m" x="594.3" y="155">Max SNR Amp, dB</text>
<text class="m" x="776.3" y="155">40</text>
<text class="m" x="594.3" y="169">Min SNR Amp, dB</text>
<text class="m" x="776.3" y="169">12</text>
<text class="m" x="594.3" y="183">Avg SNR Amp, dB</text>
<text class="m" x="776.3" y="183">23</text>
<text class="m" x="594.3" y="197">Max RMS Err, deg</text>
<text class="m" x="762.3" y="197">12.0</text>
<text class="m" x="594.3" y="211">Min RMS Err, deg</text>
<text class="m" x="769.3" y="211">0.0</text>
<text class="m" x="594.3" y="225">Avg RMS Err, deg</text>
<text class="m" x="769.3" y="225">7.5</text>
<text class="m" x="594.3" y="239">Doppler Res, Hz</text>
<text class="m" x="748.3" y="239">0.0651</text>
<text class="m" x="594.3" y="253">CIT, sec</text>
<text class="m" x="755.3" y="253">15.36</text>
<text class="m" x="594.3" y="267">Num of CITs</text>
<text class="m" x="783.3" y="267">8</text>
<text class="m" x="594.3" y="281">Polarization</text>
<text class="m" x="748.3" y="281">O-mode</text>
<text class="m" x="594.3" y="295">Center of Sources, deg:</text>
<text class="m" x="594.3" y="309">          Zenith</text>
<text class="m" x="769.3" y="309">3.0</text>
<text class="m" x="594.3" y="323">          Azimuth</text>
<text class="m" x="769.3" y="323">333</text>
<text class="ar" x="720" y="322.8">↶</text>
<text y="572"><tspan class="mi" x="12">V</tspan><tspan class="ms" x="19.2" dy="4">h</tspan><tspan class="m" x="26" dy="-4"> = </tspan><tspan class="mi" x="47">40</tspan><tspan class="m" x="61"> ± </tspan><tspan class="mi" x="82">4</tspan><tspan class="m" x="89"> m/s</tspan></text>
<text class="mi" x="11.6" y="593">Geographic coordinates</text>
<text y="572"><tspan class="mi" x="481">V</tspan><tspan class="ms" x="488" dy="4">z</tspan><tspan class="m" x="495" dy="-4"> = </tspan><tspan class="mi" x="516">2</tspan><tspan class="m" x="523"> ± </tspan><tspan class="mi" x="544">2</tspan><tspan class="m" x="551"> m/s</tspan></text>
<text class="mi" y="593"><tspan x="419">Zenith: max 40</tspan><tspan x="516.8">°</tspan><tspan x="520.6">  step 5</tspan><tspan x="576">°</tspan></text>
<text class="f" x="654.5" y="593">ShowSkymap v 1.0   SD v 5.1</text>
</svg></body></html>
